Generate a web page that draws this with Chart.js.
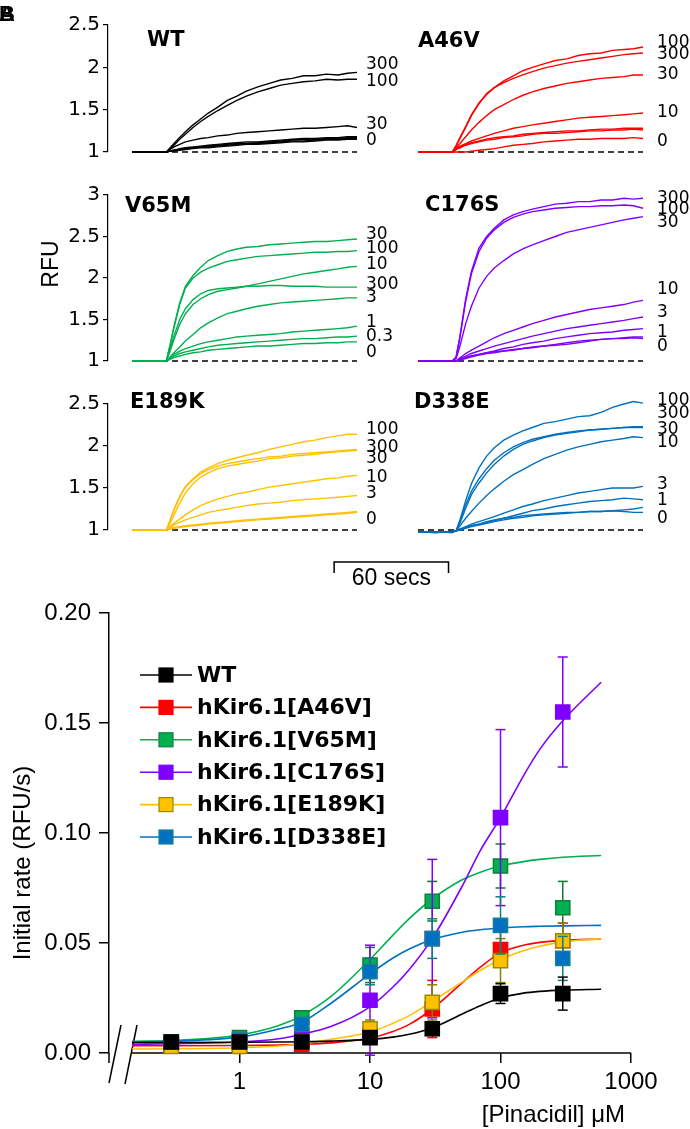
<!DOCTYPE html>
<html>
<head>
<meta charset="utf-8">
<title>Pinacidil response</title>
<script src="https://cdn.jsdelivr.net/npm/chart.js@4.4.1/dist/chart.umd.min.js"></script>
<style>
  html, body { margin: 0; padding: 0; background: #fff; }
  #fig { position: relative; width: 690px; height: 1129px; overflow: hidden; }
  #fig canvas { position: absolute; left: 0; }
</style>
</head>
<body>
<div id="fig">
  <canvas id="cWT"></canvas>
  <canvas id="cA46V"></canvas>
  <canvas id="cV65M"></canvas>
  <canvas id="cC176S"></canvas>
  <canvas id="cE189K"></canvas>
  <canvas id="cD338E"></canvas>
  <canvas id="cRate"></canvas>
</div>
<script>
"use strict";

// ---------- panel A : traces, RFU against time (s) ----------
const traceTime = [0, 9, 18, 20, 22, 25, 28, 32, 36, 40, 45, 50, 55, 60, 66, 72, 78, 84, 90, 96, 102, 108, 113, 118];
const dashTime = [0, 118];
const dashRFU = [1, 1];

const wtDoses = ["300", "100", "30", "10", "3", "1", "0"];
const wtTraces = [
    [1.00, 1.00, 1.00, 1.05, 1.10, 1.17, 1.24, 1.32, 1.39, 1.46, 1.53, 1.61, 1.66, 1.72, 1.77, 1.81, 1.85, 1.87, 1.90, 1.90, 1.92, 1.91, 1.93, 1.94],
    [1.00, 1.00, 1.00, 1.04, 1.08, 1.15, 1.21, 1.29, 1.36, 1.42, 1.49, 1.55, 1.61, 1.66, 1.71, 1.75, 1.79, 1.81, 1.83, 1.84, 1.86, 1.85, 1.86, 1.86],
    [1.00, 1.00, 1.00, 1.03, 1.06, 1.09, 1.12, 1.14, 1.16, 1.17, 1.19, 1.20, 1.22, 1.23, 1.24, 1.25, 1.26, 1.27, 1.28, 1.28, 1.29, 1.30, 1.31, 1.29],
    [1.00, 1.00, 1.00, 1.01, 1.02, 1.04, 1.05, 1.06, 1.07, 1.08, 1.09, 1.10, 1.11, 1.12, 1.12, 1.13, 1.14, 1.15, 1.16, 1.16, 1.17, 1.17, 1.18, 1.18],
    [1.00, 1.00, 1.00, 1.01, 1.02, 1.03, 1.04, 1.05, 1.06, 1.07, 1.08, 1.09, 1.10, 1.10, 1.11, 1.12, 1.13, 1.14, 1.15, 1.15, 1.16, 1.16, 1.17, 1.17],
    [1.00, 1.00, 1.00, 1.01, 1.02, 1.03, 1.04, 1.05, 1.06, 1.06, 1.07, 1.08, 1.09, 1.10, 1.10, 1.11, 1.12, 1.13, 1.13, 1.14, 1.15, 1.15, 1.16, 1.16],
    [1.00, 1.00, 1.00, 1.01, 1.01, 1.02, 1.03, 1.04, 1.05, 1.05, 1.06, 1.07, 1.08, 1.09, 1.09, 1.10, 1.11, 1.12, 1.12, 1.13, 1.14, 1.14, 1.15, 1.15]
];
const wtLabels = ["300", "100", "30", "0"];
const wtLabelRFU = [2.03, 1.83, 1.32, 1.14];

const a46vDoses = ["100", "300", "30", "10", "3", "1", "0"];
const a46vTraces = [
    [1.00, 1.00, 1.00, 1.08, 1.17, 1.30, 1.44, 1.58, 1.68, 1.76, 1.84, 1.90, 1.96, 2.00, 2.04, 2.08, 2.10, 2.14, 2.16, 2.17, 2.20, 2.21, 2.22, 2.24],
    [1.00, 1.00, 1.00, 1.07, 1.16, 1.29, 1.43, 1.57, 1.69, 1.76, 1.82, 1.87, 1.91, 1.95, 1.99, 2.02, 2.05, 2.07, 2.09, 2.11, 2.13, 2.15, 2.16, 2.17],
    [1.00, 1.00, 1.00, 1.05, 1.10, 1.18, 1.26, 1.35, 1.43, 1.50, 1.56, 1.62, 1.67, 1.71, 1.75, 1.78, 1.81, 1.83, 1.85, 1.87, 1.88, 1.89, 1.91, 1.91],
    [1.00, 1.00, 1.00, 1.04, 1.07, 1.10, 1.13, 1.16, 1.19, 1.22, 1.25, 1.28, 1.30, 1.32, 1.34, 1.36, 1.38, 1.40, 1.41, 1.42, 1.43, 1.44, 1.45, 1.46],
    [1.00, 1.00, 1.00, 1.03, 1.06, 1.09, 1.11, 1.13, 1.15, 1.17, 1.18, 1.19, 1.21, 1.22, 1.23, 1.24, 1.25, 1.25, 1.26, 1.27, 1.27, 1.28, 1.28, 1.28],
    [1.00, 1.00, 1.00, 1.03, 1.05, 1.08, 1.10, 1.12, 1.14, 1.15, 1.17, 1.18, 1.19, 1.21, 1.22, 1.22, 1.23, 1.24, 1.25, 1.25, 1.26, 1.26, 1.27, 1.26],
    [1.00, 1.00, 1.00, 1.00, 1.00, 1.00, 1.01, 1.02, 1.03, 1.04, 1.06, 1.08, 1.09, 1.10, 1.12, 1.13, 1.14, 1.15, 1.15, 1.16, 1.16, 1.16, 1.17, 1.16]
];
const a46vLabels = ["100", "300", "30", "10", "0"];
const a46vLabelRFU = [2.29, 2.15, 1.91, 1.47, 1.12];

const v65mDoses = ["30", "100", "10", "300", "3", "1", "0.3", "0"];
const v65mTraces = [
    [1.00, 1.00, 1.00, 1.20, 1.42, 1.70, 1.90, 2.03, 2.13, 2.21, 2.27, 2.32, 2.35, 2.37, 2.38, 2.40, 2.41, 2.42, 2.43, 2.44, 2.44, 2.45, 2.46, 2.47],
    [1.00, 1.00, 1.00, 1.19, 1.40, 1.68, 1.88, 2.00, 2.07, 2.12, 2.16, 2.20, 2.22, 2.24, 2.26, 2.27, 2.28, 2.29, 2.30, 2.31, 2.31, 2.32, 2.32, 2.33],
    [1.00, 1.00, 1.00, 1.12, 1.26, 1.44, 1.57, 1.68, 1.75, 1.80, 1.84, 1.86, 1.88, 1.90, 1.93, 1.96, 1.99, 2.02, 2.05, 2.07, 2.09, 2.11, 2.13, 2.14],
    [1.00, 1.00, 1.00, 1.15, 1.30, 1.50, 1.63, 1.74, 1.81, 1.85, 1.87, 1.88, 1.89, 1.90, 1.90, 1.91, 1.91, 1.90, 1.90, 1.90, 1.89, 1.89, 1.89, 1.89],
    [1.00, 1.00, 1.00, 1.05, 1.10, 1.17, 1.24, 1.32, 1.40, 1.46, 1.52, 1.57, 1.60, 1.63, 1.66, 1.68, 1.70, 1.71, 1.72, 1.73, 1.74, 1.75, 1.76, 1.76],
    [1.00, 1.00, 1.00, 1.04, 1.08, 1.12, 1.15, 1.18, 1.21, 1.23, 1.25, 1.27, 1.29, 1.30, 1.31, 1.32, 1.33, 1.35, 1.36, 1.37, 1.38, 1.39, 1.40, 1.42],
    [1.00, 1.00, 1.00, 1.03, 1.06, 1.09, 1.11, 1.13, 1.15, 1.17, 1.19, 1.20, 1.21, 1.22, 1.23, 1.24, 1.25, 1.26, 1.27, 1.27, 1.28, 1.29, 1.29, 1.30],
    [1.00, 1.00, 1.00, 1.02, 1.04, 1.06, 1.08, 1.10, 1.11, 1.13, 1.14, 1.15, 1.16, 1.17, 1.18, 1.18, 1.19, 1.20, 1.21, 1.21, 1.22, 1.22, 1.23, 1.23]
];
const v65mLabels = ["30", "100", "10", "300", "3", "1", "0.3", "0"];
const v65mLabelRFU = [2.52, 2.36, 2.16, 1.92, 1.76, 1.46, 1.29, 1.10];

const c176sDoses = ["300", "100", "30", "10", "3", "1", "0.3", "0"];
const c176sTraces = [
    [1.00, 1.00, 1.00, 1.05, 1.30, 1.75, 2.08, 2.36, 2.50, 2.60, 2.70, 2.76, 2.80, 2.83, 2.86, 2.89, 2.90, 2.92, 2.92, 2.94, 2.94, 2.96, 2.95, 2.96],
    [1.00, 1.00, 1.00, 1.05, 1.28, 1.72, 2.05, 2.32, 2.48, 2.58, 2.67, 2.73, 2.77, 2.80, 2.82, 2.84, 2.85, 2.86, 2.86, 2.87, 2.87, 2.88, 2.87, 2.84],
    [1.00, 1.00, 1.00, 1.03, 1.18, 1.45, 1.66, 1.88, 2.02, 2.12, 2.21, 2.29, 2.35, 2.40, 2.45, 2.50, 2.55, 2.58, 2.61, 2.64, 2.67, 2.70, 2.72, 2.74],
    [1.00, 1.00, 1.00, 1.00, 1.04, 1.09, 1.13, 1.18, 1.23, 1.28, 1.33, 1.37, 1.41, 1.45, 1.49, 1.53, 1.56, 1.59, 1.62, 1.64, 1.66, 1.68, 1.71, 1.73],
    [1.00, 1.00, 1.00, 1.00, 1.03, 1.06, 1.09, 1.12, 1.15, 1.18, 1.21, 1.24, 1.27, 1.30, 1.33, 1.36, 1.39, 1.41, 1.43, 1.45, 1.47, 1.49, 1.51, 1.53],
    [1.00, 1.00, 1.00, 1.00, 1.02, 1.04, 1.06, 1.08, 1.10, 1.12, 1.15, 1.17, 1.20, 1.22, 1.24, 1.27, 1.29, 1.31, 1.33, 1.34, 1.35, 1.37, 1.38, 1.39],
    [1.00, 1.00, 1.00, 1.00, 1.02, 1.04, 1.06, 1.08, 1.10, 1.11, 1.12, 1.13, 1.15, 1.16, 1.18, 1.19, 1.20, 1.22, 1.24, 1.26, 1.27, 1.28, 1.29, 1.29],
    [1.00, 1.00, 1.00, 1.00, 1.01, 1.03, 1.05, 1.07, 1.09, 1.10, 1.12, 1.14, 1.15, 1.17, 1.18, 1.20, 1.22, 1.24, 1.25, 1.26, 1.27, 1.27, 1.28, 1.27]
];
const c176sLabels = ["300", "100", "30", "10", "3", "1", "0"];
const c176sLabelRFU = [2.96, 2.82, 2.67, 1.86, 1.58, 1.34, 1.17];

const e189kDoses = ["100", "300", "30", "10", "3", "1", "0"];
const e189kTraces = [
    [1.00, 1.00, 1.00, 1.12, 1.25, 1.40, 1.52, 1.61, 1.69, 1.74, 1.79, 1.83, 1.86, 1.89, 1.92, 1.96, 1.99, 2.02, 2.05, 2.07, 2.10, 2.12, 2.14, 2.14],
    [1.00, 1.00, 1.00, 1.11, 1.24, 1.39, 1.51, 1.60, 1.67, 1.72, 1.76, 1.79, 1.81, 1.83, 1.85, 1.87, 1.88, 1.90, 1.91, 1.92, 1.93, 1.94, 1.95, 1.96],
    [1.00, 1.00, 1.00, 1.08, 1.18, 1.32, 1.44, 1.55, 1.63, 1.68, 1.73, 1.76, 1.78, 1.80, 1.82, 1.85, 1.86, 1.88, 1.89, 1.90, 1.92, 1.93, 1.94, 1.95],
    [1.00, 1.00, 1.00, 1.04, 1.08, 1.13, 1.18, 1.24, 1.29, 1.33, 1.37, 1.40, 1.43, 1.45, 1.48, 1.51, 1.53, 1.55, 1.57, 1.59, 1.61, 1.62, 1.64, 1.65],
    [1.00, 1.00, 1.00, 1.03, 1.06, 1.09, 1.12, 1.15, 1.18, 1.21, 1.23, 1.25, 1.27, 1.29, 1.31, 1.32, 1.33, 1.35, 1.36, 1.37, 1.38, 1.39, 1.40, 1.41],
    [1.00, 1.00, 1.00, 1.02, 1.03, 1.04, 1.05, 1.06, 1.07, 1.08, 1.09, 1.10, 1.11, 1.12, 1.13, 1.14, 1.15, 1.16, 1.17, 1.18, 1.19, 1.20, 1.21, 1.22],
    [1.00, 1.00, 1.00, 1.01, 1.02, 1.03, 1.04, 1.05, 1.06, 1.07, 1.08, 1.09, 1.10, 1.11, 1.12, 1.13, 1.14, 1.15, 1.16, 1.17, 1.18, 1.19, 1.20, 1.21]
];
const e189kLabels = ["100", "300", "30", "10", "3", "0"];
const e189kLabelRFU = [2.19, 1.98, 1.85, 1.62, 1.43, 1.13];

const d338eDoses = ["100", "300", "30", "10", "3", "1", "0.3", "0"];
const d338eTraces = [
    [0.98, 0.97, 0.98, 0.99, 1.12, 1.35, 1.55, 1.74, 1.88, 1.98, 2.07, 2.13, 2.18, 2.22, 2.27, 2.29, 2.32, 2.35, 2.36, 2.40, 2.46, 2.50, 2.53, 2.51],
    [0.98, 0.98, 0.97, 0.99, 1.10, 1.30, 1.46, 1.61, 1.73, 1.83, 1.92, 1.99, 2.04, 2.08, 2.11, 2.14, 2.16, 2.18, 2.19, 2.20, 2.21, 2.22, 2.23, 2.23],
    [0.98, 0.97, 0.98, 0.99, 1.08, 1.26, 1.42, 1.56, 1.68, 1.78, 1.88, 1.96, 2.02, 2.06, 2.10, 2.13, 2.15, 2.17, 2.19, 2.20, 2.21, 2.22, 2.22, 2.22],
    [0.98, 0.98, 0.98, 0.99, 1.05, 1.14, 1.22, 1.32, 1.41, 1.49, 1.58, 1.66, 1.72, 1.78, 1.85, 1.90, 1.95, 1.99, 2.02, 2.05, 2.07, 2.09, 2.11, 2.10],
    [0.98, 0.97, 0.98, 0.99, 1.01, 1.04, 1.07, 1.10, 1.13, 1.16, 1.20, 1.24, 1.28, 1.31, 1.35, 1.38, 1.41, 1.44, 1.46, 1.48, 1.50, 1.50, 1.50, 1.52],
    [0.98, 0.98, 0.98, 0.99, 1.01, 1.03, 1.05, 1.07, 1.09, 1.11, 1.14, 1.17, 1.20, 1.23, 1.25, 1.28, 1.30, 1.32, 1.34, 1.35, 1.36, 1.38, 1.37, 1.36],
    [0.98, 0.98, 0.97, 0.99, 1.00, 1.02, 1.04, 1.06, 1.08, 1.10, 1.12, 1.14, 1.15, 1.17, 1.18, 1.19, 1.20, 1.21, 1.22, 1.22, 1.23, 1.24, 1.25, 1.27],
    [0.98, 0.98, 0.98, 0.99, 1.01, 1.03, 1.05, 1.07, 1.10, 1.12, 1.14, 1.15, 1.17, 1.18, 1.19, 1.20, 1.21, 1.21, 1.22, 1.22, 1.23, 1.22, 1.21, 1.21]
];
const d338eLabels = ["100", "300", "30", "10", "3", "1", "0"];
const d338eLabelRFU = [2.54, 2.39, 2.19, 2.04, 1.54, 1.35, 1.14];

const scaleBarStart = 106;   // s, on the E189K time axis
const scaleBarSecs = 60;

// ---------- panel B : initial rate against [pinacidil] ----------
const pinConc = [0.3, 1, 3, 10, 30, 100, 300];
const rateWT    = [0.005, 0.005, 0.005, 0.007, 0.011, 0.027, 0.027];
const errWT     = [0.001, 0.001, 0.001, 0.002, 0.003, 0.0045, 0.0075];
const rateA46V  = [0.004, 0.004, 0.004, 0.008, 0.020, 0.047, 0.051];
const errA46V   = [0.001, 0.001, 0.001, 0.002, 0.013, 0.008, 0.008];
const rateV65M  = [0.005, 0.007, 0.016, 0.040, 0.069, 0.085, 0.066];
const errV65M   = [0.001, 0.002, 0.003, 0.008, 0.009, 0.010, 0.012];
const rateC176S = [0.004, 0.005, 0.008, 0.024, 0.052, 0.107, 0.155];
const errC176S  = [0.001, 0.001, 0.002, 0.025, 0.036, 0.040, 0.025];
const rateE189K = [0.003, 0.003, 0.005, 0.011, 0.023, 0.042, 0.051];
const errE189K  = [0.001, 0.001, 0.001, 0.004, 0.008, 0.010, 0.008];
const rateD338E = [0.005, 0.006, 0.013, 0.037, 0.052, 0.058, 0.043];
const errD338E  = [0.001, 0.001, 0.003, 0.006, 0.009, 0.013, 0.010];

// fitted curves
const fitConc  = [0.15, 0.3, 1, 2, 3, 5, 10, 15, 20, 30, 50, 70, 100, 150, 200, 300, 590];
const fitWT    = [0.0048, 0.0048, 0.0049, 0.0050, 0.0051, 0.0054, 0.0062, 0.0072, 0.0085, 0.0114, 0.0175, 0.0215, 0.0250, 0.0272, 0.0280, 0.0286, 0.0290];
const fitA46V  = [0.0033, 0.0033, 0.0034, 0.0036, 0.0039, 0.0046, 0.0068, 0.0098, 0.0130, 0.0200, 0.0315, 0.0390, 0.0455, 0.0490, 0.0503, 0.0512, 0.0518];
const fitV65M  = [0.0053, 0.0057, 0.0082, 0.0125, 0.0170, 0.0256, 0.0425, 0.0536, 0.0611, 0.0700, 0.0785, 0.0822, 0.0850, 0.0870, 0.0880, 0.0890, 0.0898];
const fitC176S = [0.0040, 0.0042, 0.0050, 0.0065, 0.0085, 0.0120, 0.0210, 0.0300, 0.0380, 0.0520, 0.0750, 0.0920, 0.1070, 0.1260, 0.1380, 0.1510, 0.1685];
const fitE189K = [0.0018, 0.0019, 0.0024, 0.0032, 0.0042, 0.0062, 0.0095, 0.0135, 0.0170, 0.0235, 0.0320, 0.0375, 0.0425, 0.0465, 0.0485, 0.0505, 0.0520];
const fitD338E = [0.0050, 0.0054, 0.0072, 0.0109, 0.0140, 0.0225, 0.0360, 0.0432, 0.0473, 0.0516, 0.0548, 0.0560, 0.0568, 0.0574, 0.0576, 0.0578, 0.0580];

const xTicksB = [1, 10, 100, 1000];

Chart.defaults.font.family = '"Liberation Sans", Arial, sans-serif';
Chart.defaults.color = "#000";

const FW = 690;
const rows = [
    { top: 0,   height: 185, chartTop: 25,  chartBottom: 152 },
    { top: 170, height: 225, chartTop: 195, chartBottom: 361 },
    { top: 379, height: 225, chartTop: 404, chartBottom: 530 }
];
const cols = [
    { left: 108, right: 357, xMin: -12.6, labelGap: 9 },
    { left: 418, right: 643, xMin: 0, labelGap: 14 }
];

const panelsA = [
    { canvas: "cWT",    name: "WT",    color: "#000000", doses: wtDoses,    traces: wtTraces,    labels: wtLabels,    labelRFU: wtLabelRFU,    yMax: 2.5, row: 0, col: 0, titleX: 147, titleY: 41, extra: drawPanelLetters },
    { canvas: "cA46V",  name: "A46V",  color: "#ff0000", doses: a46vDoses,  traces: a46vTraces,  labels: a46vLabels,  labelRFU: a46vLabelRFU,  yMax: 2.5, row: 0, col: 1, titleX: 418, titleY: 42 },
    { canvas: "cV65M",  name: "V65M",  color: "#00b050", doses: v65mDoses,  traces: v65mTraces,  labels: v65mLabels,  labelRFU: v65mLabelRFU,  yMax: 3,   row: 1, col: 0, titleX: 125, titleY: 207, extra: drawRFUTitle },
    { canvas: "cC176S", name: "C176S", color: "#8000ff", doses: c176sDoses, traces: c176sTraces, labels: c176sLabels, labelRFU: c176sLabelRFU, yMax: 3,   row: 1, col: 1, titleX: 425, titleY: 206 },
    { canvas: "cE189K", name: "E189K", color: "#ffc000", doses: e189kDoses, traces: e189kTraces, labels: e189kLabels, labelRFU: e189kLabelRFU, yMax: 2.5, row: 2, col: 0, titleX: 130, titleY: 403, extra: drawScaleBar },
    { canvas: "cD338E", name: "D338E", color: "#0070c0", doses: d338eDoses, traces: d338eTraces, labels: d338eLabels, labelRFU: d338eLabelRFU, yMax: 2.5, row: 2, col: 1, titleX: 414, titleY: 403 }
];

function line(ctx, x0, y0, x1, y1) {
    ctx.beginPath();
    ctx.moveTo(x0, y0);
    ctx.lineTo(x1, y1);
    ctx.stroke();
}

function drawPanelLetters(chart) {
    const ctx = chart.ctx;
    ctx.font = 'bold 22px "Liberation Sans", Arial, sans-serif';
    ctx.textAlign = "left";
    ctx.fillText("A", -1, 15);
    ctx.fillText("B", -1, 15);
}

function drawRFUTitle(chart, row) {
    const ctx = chart.ctx;
    ctx.save();
    ctx.translate(52, 264 - row.top);
    ctx.rotate(-Math.PI / 2);
    ctx.textAlign = "center";
    ctx.font = '23px "Liberation Sans", Arial, sans-serif';
    ctx.fillText("RFU", 0, 0);
    ctx.restore();
}

function drawScaleBar(chart) {
    const ctx = chart.ctx;
    const xs = chart.scales.x;
    const x0 = xs.getPixelForValue(scaleBarStart);
    const x1 = xs.getPixelForValue(scaleBarStart + scaleBarSecs);
    const y = chart.chartArea.bottom + 32;
    ctx.strokeStyle = "#000";
    ctx.lineWidth = 1.5;
    ctx.beginPath();
    ctx.moveTo(x0, y + 11);
    ctx.lineTo(x0, y);
    ctx.lineTo(x1, y);
    ctx.lineTo(x1, y + 11);
    ctx.stroke();
    ctx.textAlign = "center";
    ctx.font = '23px "Liberation Sans", Arial, sans-serif';
    ctx.fillText(scaleBarSecs + " secs", (x0 + x1) / 2, y + 17);
}

function panelDecor(p, row, col) {
    return {
        id: "decor" + p.canvas,
        afterDatasetsDraw(chart) {
            const ctx = chart.ctx;
            const ys = chart.scales.y;
            const area = chart.chartArea;
            ctx.save();
            ctx.fillStyle = "#000";
            ctx.textBaseline = "middle";
            ctx.textAlign = "left";
            ctx.font = 'bold 21px "DejaVu Sans", sans-serif';
            ctx.fillText(p.name, p.titleX, p.titleY - row.top);
            ctx.font = '17px "DejaVu Sans", sans-serif';
            p.labels.forEach((txt, i) => {
                ctx.fillText(txt, area.right + col.labelGap, ys.getPixelForValue(p.labelRFU[i]));
            });
            if (p.extra) p.extra(chart, row);
            ctx.restore();
        }
    };
}

function makePanel(p) {
    const row = rows[p.row];
    const col = cols[p.col];
    const cv = document.getElementById(p.canvas);
    cv.width = FW;
    cv.height = row.height;
    cv.style.width = FW + "px";
    cv.style.height = row.height + "px";
    cv.style.top = row.top + "px";

    const datasets = p.traces.map((vals, i) => ({
        label: p.doses[i],
        data: traceTime.map((t, k) => ({ x: t, y: vals[k] })),
        borderColor: p.color,
        borderWidth: 1.4,
        pointRadius: 0,
        tension: 0,
        clip: false,
        order: 1
    }));
    datasets.push({
        label: "baseline",
        data: dashTime.map((t, k) => ({ x: t, y: dashRFU[k] })),
        borderColor: "#000",
        borderWidth: 1.5,
        borderDash: [6, 4],
        pointRadius: 0,
        clip: false,
        order: 50
    });

    const yAxis = {
        type: "linear",
        display: p.col === 0,
        min: 1,
        max: p.yMax,
        ticks: {
            stepSize: 0.5,
            padding: 3,
            color: "#000",
            font: { family: '"DejaVu Sans", sans-serif', size: 20 },
            callback: v => String(v)
        },
        grid: { drawOnChartArea: false, drawTicks: true, tickLength: 5, color: "#000", lineWidth: 1.2 },
        border: { display: true, color: "#000", width: 1.2 }
    };
    if (p.col === 0) yAxis.afterFit = s => { s.width = col.left; };

    new Chart(cv, {
        type: "line",
        data: { datasets: datasets },
        options: {
            responsive: false,
            animation: false,
            events: [],
            layout: {
                padding: {
                    left: p.col === 0 ? 0 : col.left,
                    right: FW - col.right,
                    top: row.chartTop - row.top,
                    bottom: row.top + row.height - row.chartBottom
                }
            },
            plugins: { legend: { display: false }, tooltip: { enabled: false } },
            scales: {
                x: { type: "linear", display: false, min: col.xMin, max: 118 },
                y: yAxis
            }
        },
        plugins: [panelDecor(p, row, col)]
    });
}

panelsA.forEach(makePanel);

// ---------- panel B ----------
const seriesB = [
    { name: "WT",             color: "#000000", edge: "#000000", errColor: "#000000", rate: rateWT,    err: errWT,    fit: fitWT,    order: 0 },
    { name: "hKir6.1[A46V]",  color: "#ff0000", edge: "#ff0000", errColor: "#ff0000", rate: rateA46V,  err: errA46V,  fit: fitA46V,  order: 5 },
    { name: "hKir6.1[V65M]",  color: "#00b050", edge: "#11803a", errColor: "#117a2e", rate: rateV65M,  err: errV65M,  fit: fitV65M,  order: 4 },
    { name: "hKir6.1[C176S]", color: "#8000ff", edge: "#8000ff", errColor: "#8000ff", rate: rateC176S, err: errC176S, fit: fitC176S, order: 3 },
    { name: "hKir6.1[E189K]", color: "#ffc000", edge: "#9a8a00", errColor: "#858000", rate: rateE189K, err: errE189K, fit: fitE189K, order: 2 },
    { name: "hKir6.1[D338E]", color: "#0070c0", edge: "#1a8090", errColor: "#0a8080", rate: rateD338E, err: errD338E, fit: fitD338E, order: 1 }
];

const B_TOP = 590;
const B_H = 539;

const datasetsB = [];
seriesB.forEach(s => {
    datasetsB.push({
        label: s.name + " fit",
        data: fitConc.map((c, i) => ({ x: c, y: s.fit[i] })),
        borderColor: s.color,
        borderWidth: 1.6,
        pointRadius: 0,
        cubicInterpolationMode: "monotone",
        clip: false,
        order: 10 + s.order
    });
    datasetsB.push({
        label: s.name,
        data: pinConc.map((c, i) => ({ x: c, y: s.rate[i] })),
        errors: s.err,
        errColor: s.errColor,
        showLine: false,
        pointStyle: "rect",
        pointRadius: 10,
        pointBackgroundColor: s.color,
        pointBorderColor: s.edge,
        pointBorderWidth: 1.5,
        clip: false,
        order: s.order
    });
});

const rateDecor = {
    id: "rateDecor",
    beforeDatasetsDraw(chart) {
        const ctx = chart.ctx;
        const xs = chart.scales.x, ys = chart.scales.y;
        const area = chart.chartArea;
        const y0 = ys.getPixelForValue(0);
        ctx.save();
        ctx.strokeStyle = "#000";
        ctx.lineWidth = 1.5;
        // x axis starts after the break
        line(ctx, xs.getPixelForValue(fitConc[0]), y0, area.right, y0);
        // y axis runs a little below zero
        line(ctx, area.left, area.bottom, area.left, area.bottom + 10);
        // axis break
        line(ctx, area.left, y0 + 30, area.left + 12, y0 - 28);
        line(ctx, area.left + 16, y0 + 31, area.left + 28, y0 - 28);
        ctx.restore();
    },
    beforeDatasetDraw(chart, args) {
        const ds = chart.data.datasets[args.index];
        if (!ds.errors) return;
        const ctx = chart.ctx;
        const xs = chart.scales.x, ys = chart.scales.y;
        ctx.save();
        ctx.strokeStyle = ds.errColor;
        ctx.lineWidth = 1.5;
        ds.data.forEach((pt, i) => {
            const x = xs.getPixelForValue(pt.x);
            const yl = ys.getPixelForValue(pt.y - ds.errors[i]);
            const yh = ys.getPixelForValue(pt.y + ds.errors[i]);
            line(ctx, x, yl, x, yh);
            line(ctx, x - 5, yl, x + 5, yl);
            line(ctx, x - 5, yh, x + 5, yh);
        });
        ctx.restore();
    },
    afterDraw(chart) {
        const ctx = chart.ctx;
        ctx.save();
        ctx.fillStyle = "#000";
        ctx.textBaseline = "middle";
        // axis titles
        ctx.font = '24px "Liberation Sans", Arial, sans-serif';
        ctx.save();
        ctx.translate(23, 863 - B_TOP);
        ctx.rotate(-Math.PI / 2);
        ctx.textAlign = "center";
        ctx.fillText("Initial rate (RFU/s)", 0, 0);
        ctx.restore();
        ctx.textAlign = "right";
        ctx.fillText("[Pinacidil] \u03bcM", 625, 1115 - B_TOP);
        // legend
        ctx.textAlign = "left";
        ctx.font = 'bold 22px "DejaVu Sans", sans-serif';
        seriesB.forEach((s, i) => {
            const y = 675 - B_TOP + i * 32.4;
            ctx.strokeStyle = s.color;
            ctx.lineWidth = 1.6;
            line(ctx, 140, y, 192, y);
            ctx.fillStyle = s.color;
            ctx.fillRect(159, y - 7, 14, 14);
            ctx.strokeStyle = s.edge;
            ctx.lineWidth = 1.2;
            ctx.strokeRect(159, y - 7, 14, 14);
            ctx.fillStyle = "#000";
            ctx.fillText(s.name, 197, y + 1);
        });
        ctx.restore();
    }
};

const cvB = document.getElementById("cRate");
cvB.width = FW;
cvB.height = B_H;
cvB.style.width = FW + "px";
cvB.style.height = B_H + "px";
cvB.style.top = B_TOP + "px";

new Chart(cvB, {
    type: "line",
    data: { datasets: datasetsB },
    options: {
        responsive: false,
        animation: false,
        events: [],
        layout: { padding: { left: 0, right: 59, top: 613 - B_TOP, bottom: 0 } },
        plugins: { legend: { display: false }, tooltip: { enabled: false } },
        scales: {
            x: {
                type: "logarithmic",
                min: 0.1,
                max: 1000,
                afterFit: s => { s.height = 76; },
                afterBuildTicks: s => { s.ticks = xTicksB.map(v => ({ value: v })); },
                ticks: {
                    padding: 5,
                    autoSkip: false,
                    maxRotation: 0,
                    color: "#000",
                    font: { size: 24 },
                    callback: v => String(v)
                },
                grid: { drawOnChartArea: false, drawTicks: true, tickLength: 10, color: "#000", lineWidth: 1.5 },
                border: { display: false }
            },
            y: {
                type: "linear",
                min: 0,
                max: 0.2,
                afterFit: s => { s.width = 109; },
                ticks: {
                    stepSize: 0.05,
                    padding: 8,
                    color: "#000",
                    font: { size: 24 },
                    callback: v => v.toFixed(2)
                },
                grid: { drawOnChartArea: false, drawTicks: true, tickLength: 10, color: "#000", lineWidth: 1.5 },
                border: { display: true, color: "#000", width: 1.5 }
            }
        }
    },
    plugins: [rateDecor]
});
</script>
</body>
</html>
